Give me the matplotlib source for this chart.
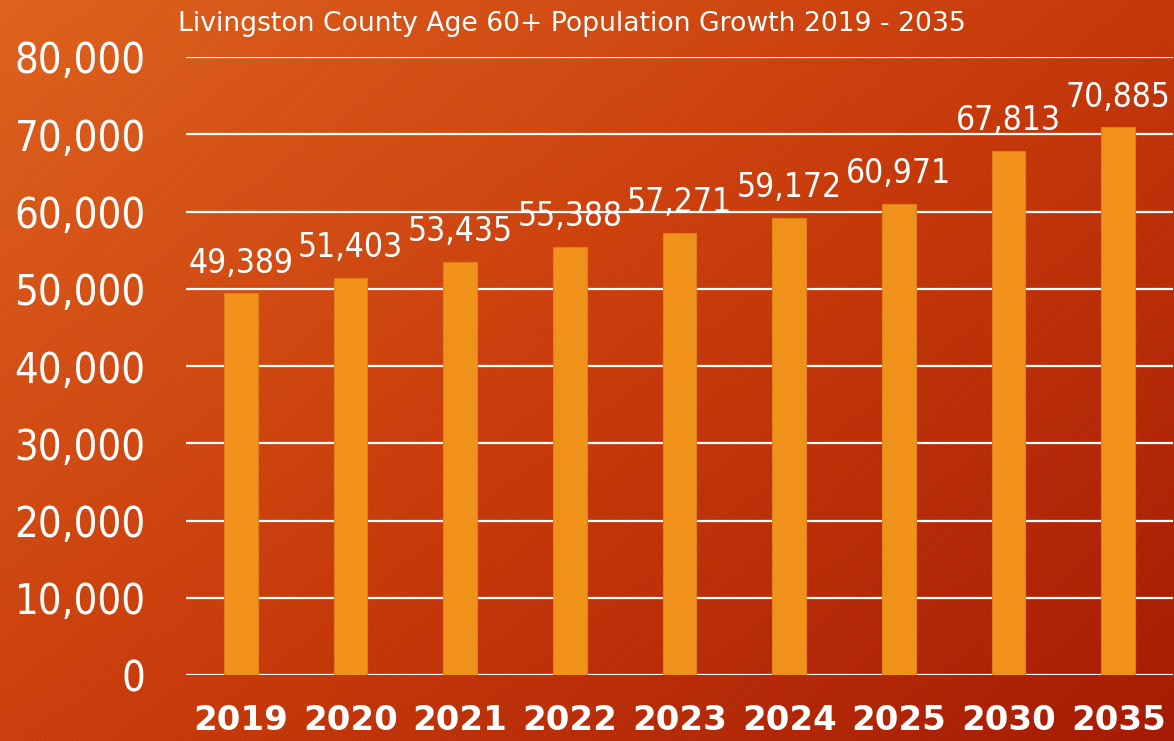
import numpy as np
from matplotlib import pyplot as plt
from matplotlib.colors import LinearSegmentedColormap

years = ['2019', '2020', '2021', '2022', '2023', '2024', '2025', '2030', '2035']
population = [49389, 51403, 53435, 55388, 57271, 59172, 60971, 67813, 70885]
y_ticks = [0, 10000, 20000, 30000, 40000, 50000, 60000, 70000, 80000]
title = 'Livingston County Age 60+ Population Growth 2019 - 2035'

plt.rcParams['font.family'] = ['DejaVu Sans']

fig = plt.figure(figsize=(11.74, 7.41), dpi=100)

# gradient background, lighter orange top-left to deep red bottom-right
bg = fig.add_axes([0, 0, 1, 1], zorder=-10)
gx, gy = np.meshgrid(np.linspace(0, 1, 1174), np.linspace(0, 1, 741))
grad = gx * 0.55 + gy * 0.45
cmap = LinearSegmentedColormap.from_list('bg', ['#e2641f', '#cc3d0c', '#a81c05'])
bg.imshow(grad, cmap=cmap, aspect='auto', extent=[0, 1, 0, 1], origin='upper')
# faint diagonal stripes
px, py = np.meshgrid(np.arange(1174), np.arange(741))
stripes = (np.sin((px + py) * 2 * np.pi / 5) > 0.3).astype(float)
overlay = np.zeros((741, 1174, 4))
overlay[..., 3] = stripes * 0.04
bg.imshow(overlay, aspect='auto', extent=[0, 1, 0, 1], origin='upper')
bg.axis('off')

ax = fig.add_axes([186 / 1174, 1 - 675 / 741, 987 / 1174, 618 / 741])
ax.patch.set_alpha(0)
x = np.arange(len(years))
ax.bar(x, population, width=0.31, color='#f0921a', edgecolor='#e0801a', linewidth=0.8, zorder=3)

ax.set_xlim(-0.5, len(years) - 0.5)
ax.set_ylim(0, 80000)
ax.set_yticks(y_ticks)
ax.set_yticklabels([f'{v:,}' for v in y_ticks], fontsize=30, color='white', fontstretch='condensed')
ax.set_xticks(x)
ax.set_xticklabels(years, fontsize=24.5, color='white', fontweight='bold')
ax.tick_params(axis='both', length=0)
ax.tick_params(axis='y', pad=29)
ax.tick_params(axis='x', pad=21)
ax.grid(axis='y', color='white', linewidth=1.6, zorder=1)
for s in ax.spines.values():
    s.set_visible(False)

for xi, v in zip(x, population):
    ax.text(xi, v + 1800, f'{v:,}', ha='center', va='bottom', fontsize=24, color='white',
            fontstretch='condensed')

fig.text(178 / 1174, 1 - 24 / 741, title, ha='left', va='center', fontsize=19.2, color='white')

fig.savefig('out.png', dpi=100)
